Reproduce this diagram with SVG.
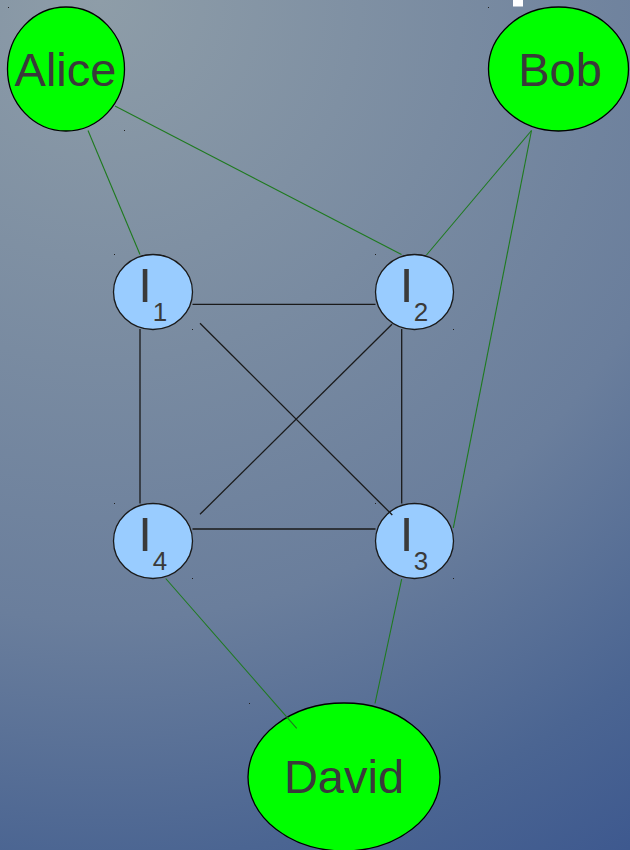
<svg xmlns="http://www.w3.org/2000/svg" width="630" height="850" viewBox="0 0 630 850">
<defs>
<radialGradient id="bg" gradientUnits="userSpaceOnUse" cx="100" cy="0" r="1000">
<stop offset="0" stop-color="#8e9da8"/>
<stop offset="0.62" stop-color="#6a7e9c"/>
<stop offset="0.86" stop-color="#4b6592"/>
<stop offset="1" stop-color="#3e598f"/>
</radialGradient>
<style>
.person{fill:#00ff00;stroke:#000;stroke-width:1.3}
.inst{fill:#99ccff;stroke:#1a1a1a;stroke-width:1.3}
.lbl{font-family:"Liberation Sans",Arial,sans-serif;fill:#3a3a3a;text-anchor:middle}
.big{font-size:47px}
.ii{font-size:49px}
.sub{font-size:26px}
.g{stroke:#1e7a1e;stroke-width:1.1;fill:none}
.k{stroke:#1a1a1a;stroke-width:1.3;fill:none}
.dot{fill:#222}
</style>
</defs>
<rect width="630" height="850" fill="url(#bg)"/>
<rect x="513" y="0" width="10" height="6.5" fill="#ffffff"/>
<g id="marks">
<rect class="dot" x="8" y="7" width="1" height="1"/>
<rect class="dot" x="124" y="130" width="1" height="1"/>
<rect class="dot" x="488" y="7" width="1" height="1"/>
<rect class="dot" x="114" y="254" width="1" height="1"/>
<rect class="dot" x="192" y="329" width="1" height="1"/>
<rect class="dot" x="375" y="254" width="1" height="1"/>
<rect class="dot" x="453" y="329" width="1" height="1"/>
<rect class="dot" x="114" y="503" width="1" height="1"/>
<rect class="dot" x="192" y="578" width="1" height="1"/>
<rect class="dot" x="375" y="503" width="1" height="1"/>
<rect class="dot" x="453" y="578" width="1" height="1"/>
<rect class="dot" x="249" y="703" width="1" height="1"/>
</g>
<g id="alice">
<ellipse class="person" cx="66" cy="69" rx="58.5" ry="62"/>
<text class="lbl big" x="65.5" y="86">Alice</text>
</g>
<g id="bob">
<ellipse class="person" cx="558.5" cy="69" rx="70" ry="62"/>
<text class="lbl big" x="560" y="86">Bob</text>
</g>
<g id="i1">
<ellipse class="inst" cx="153" cy="292" rx="39.5" ry="37.5"/>
<text class="lbl ii" x="145" y="301.5">I</text>
<text class="lbl sub" x="160" y="321">1</text>
</g>
<g id="i2">
<ellipse class="inst" cx="414.5" cy="292" rx="39" ry="37.5"/>
<text class="lbl ii" x="406.5" y="301.5">I</text>
<text class="lbl sub" x="421" y="321">2</text>
</g>
<g id="i4">
<ellipse class="inst" cx="153" cy="541" rx="39.5" ry="37.5"/>
<text class="lbl ii" x="145" y="550.5">I</text>
<text class="lbl sub" x="160" y="570">4</text>
</g>
<g id="i3">
<ellipse class="inst" cx="414.5" cy="541" rx="39" ry="37.5"/>
<text class="lbl ii" x="406.5" y="550.5">I</text>
<text class="lbl sub" x="421" y="570">3</text>
</g>
<g id="david">
<ellipse class="person" cx="344" cy="777" rx="96" ry="74"/>
<text class="lbl big" x="344" y="793">David</text>
</g>
<g id="connectors">
<line class="g" x1="88" y1="130.5" x2="140" y2="254.5"/>
<line class="g" x1="115" y1="106" x2="401.5" y2="254.5"/>
<line class="g" x1="531.5" y1="130.5" x2="426.5" y2="255"/>
<line class="g" x1="531.5" y1="130.5" x2="453.3" y2="528"/>
<line class="g" x1="165.7" y1="578.5" x2="296.7" y2="728.3"/>
<line class="g" x1="401.7" y1="579" x2="375" y2="703.5"/>
<line class="k" x1="192.5" y1="304.3" x2="375.5" y2="304.3"/>
<line class="k" x1="192.5" y1="529" x2="375.5" y2="529"/>
<line class="k" x1="140" y1="329" x2="140" y2="503.5"/>
<line class="k" x1="401.7" y1="329" x2="401.7" y2="503.5"/>
<line class="k" x1="200" y1="323.3" x2="392.3" y2="515"/>
<line class="k" x1="392" y1="324.3" x2="200" y2="514.3"/>
</g>
</svg>
